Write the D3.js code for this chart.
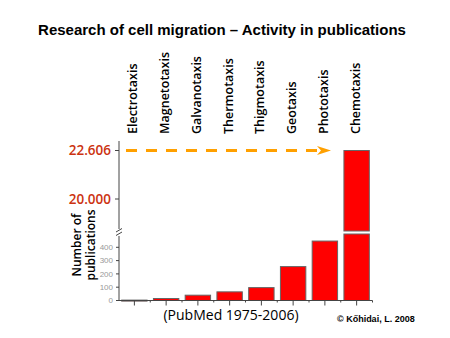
<!DOCTYPE html>
<html>
<head>
<meta charset="utf-8">
<script src="https://cdn.jsdelivr.net/npm/d3@7/dist/d3.min.js"></script>
<style>
  html, body { margin: 0; padding: 0; background: #fff; }
  svg { display: block; }
</style>
</head>
<body>
<svg id="chart" width="450" height="338"></svg>
<script>
// Publications per cell-migration research topic, PubMed 1975-2006
const categories = ["Electrotaxis", "Magnetotaxis", "Galvanotaxis", "Thermotaxis",
                    "Thigmotaxis", "Geotaxis", "Phototaxis", "Chemotaxis"];
const publications = [3, 15, 40, 65, 97, 255, 447, 22606];
const lowTicks = [0, 100, 200, 300, 400];
const highTicks = [20000, 22606];
const highTickLabels = ["20.000", "22.606"];

const svg = d3.select("#chart");
const humanist = "Open Sans, Noto Sans, sans-serif";

// Category band scale along the bottom axis
const x = d3.scaleBand()
  .domain(categories)
  .range([118.5, 372.5])
  .paddingInner(0.2)
  .paddingOuter(0.1);

// Broken value axis: a low segment (0-500) and a high segment (around 20k)
const yLow = d3.scaleLinear().domain([0, 500]).range([300.5, 234]);
const yHigh = d3.scaleLinear().domain([20000, 22606]).range([199, 150.5]);
const highBottom = 231;   // lower edge of the high segment

const axisColor = "#444";

// Title
svg.append("text")
  .attr("x", 222).attr("y", 35)
  .attr("text-anchor", "middle")
  .attr("font-family", "Liberation Sans, Arial, sans-serif")
  .attr("font-weight", "bold")
  .attr("font-size", 15)
  .attr("fill", "#000")
  .text("Research of cell migration \u2013 Activity in publications");

// Rotated category labels above the plot, reading bottom to top
svg.append("g").selectAll("text")
  .data(categories)
  .join("text")
  .attr("transform", d => `translate(${x(d) + x.bandwidth() / 2 + 3},134) rotate(-90)`)
  .attr("text-anchor", "start")
  .attr("font-family", humanist)
  .attr("font-weight", 600)
  .attr("font-size", 12.5)
  .attr("fill", "#000")
  .text(d => d);

// Bars
const bars = svg.append("g");
categories.forEach((c, i) => {
  const v = publications[i];
  const lowTop = yLow(Math.min(v, 500));
  bars.append("rect")
    .attr("x", x(c))
    .attr("y", lowTop)
    .attr("width", x.bandwidth())
    .attr("height", Math.max(1, yLow(0) - lowTop))
    .attr("fill", "#ff0000")
    .attr("stroke", "#666")
    .attr("stroke-width", 1);
  if (v > 500) {
    const top = yHigh(v);
    bars.append("rect")
      .attr("x", x(c))
      .attr("y", top)
      .attr("width", x.bandwidth())
      .attr("height", highBottom - top)
      .attr("fill", "#ff0000")
      .attr("stroke", "#666")
      .attr("stroke-width", 1);
  }
});

// Vertical axis line with break
const axX = 119;
svg.append("line").attr("x1", axX).attr("x2", axX).attr("y1", 141).attr("y2", 229)
  .attr("stroke", axisColor).attr("stroke-width", 1);
svg.append("line").attr("x1", axX).attr("x2", axX).attr("y1", 236).attr("y2", yLow(0))
  .attr("stroke", axisColor).attr("stroke-width", 1);
[0, 3.5].forEach(o => {
  svg.append("line")
    .attr("x1", axX - 3).attr("y1", 232 + o)
    .attr("x2", axX + 3).attr("y2", 228.5 + o)
    .attr("stroke", axisColor).attr("stroke-width", 1);
});

// Low segment ticks and labels
const low = svg.append("g");
lowTicks.forEach(t => {
  low.append("line")
    .attr("x1", axX - 3).attr("x2", axX).attr("y1", yLow(t)).attr("y2", yLow(t))
    .attr("stroke", axisColor);
  low.append("text")
    .attr("x", axX - 6).attr("y", yLow(t)).attr("dy", "0.35em")
    .attr("text-anchor", "end")
    .attr("font-family", "Liberation Sans, Arial, sans-serif")
    .attr("font-size", 8)
    .attr("fill", "#999")
    .text(t);
});

// High segment ticks and labels
const high = svg.append("g");
highTicks.forEach((t, i) => {
  high.append("line")
    .attr("x1", axX - 4).attr("x2", axX).attr("y1", yHigh(t)).attr("y2", yHigh(t))
    .attr("stroke", axisColor);
  high.append("text")
    .attr("x", 111).attr("y", yHigh(t)).attr("dy", "0.36em")
    .attr("text-anchor", "end")
    .attr("font-family", humanist)
    .attr("font-weight", 600)
    .attr("font-size", 13.5)
    .attr("fill", "#cc3311")
    .text(highTickLabels[i]);
});

// Bottom axis with centre and boundary ticks
const base = yLow(0);
svg.append("line").attr("x1", axX).attr("x2", 372.5).attr("y1", base).attr("y2", base)
  .attr("stroke", axisColor).attr("stroke-width", 1);
const gap = (x.step() - x.bandwidth()) / 2;
categories.forEach(c => {
  const cx = x(c) + x.bandwidth() / 2;
  svg.append("line").attr("x1", cx).attr("x2", cx).attr("y1", base).attr("y2", base + 5)
    .attr("stroke", axisColor);
  const bx = x(c) + x.bandwidth() + gap;
  svg.append("line").attr("x1", bx).attr("x2", bx).attr("y1", base).attr("y2", base + 2)
    .attr("stroke", axisColor);
});

// Y axis title
const yTitle = svg.append("text")
  .attr("transform", "translate(0,245) rotate(-90)")
  .attr("text-anchor", "middle")
  .attr("font-family", humanist)
  .attr("font-weight", 600)
  .attr("font-size", 12)
  .attr("fill", "#000");
yTitle.append("tspan").attr("x", 0).attr("y", 81).text("Number of");
yTitle.append("tspan").attr("x", 0).attr("y", 95).text("publications");

// Dashed orange arrow pointing at the tallest bar
const arrowY = yHigh(22606);
svg.append("line")
  .attr("x1", 126).attr("x2", 318).attr("y1", arrowY).attr("y2", arrowY)
  .attr("stroke", "#ffa000").attr("stroke-width", 3)
  .attr("stroke-dasharray", "11,9");
svg.append("path")
  .attr("d", `M317,${arrowY - 4.5} L331,${arrowY} L317,${arrowY + 4.5} L321,${arrowY} Z`)
  .attr("fill", "#ffa000");

// Source note and credit
svg.append("text")
  .attr("x", 231).attr("y", 320)
  .attr("text-anchor", "middle")
  .attr("font-family", humanist)
  .attr("font-size", 14)
  .attr("fill", "#000")
  .text("(PubMed 1975-2006)");
svg.append("text")
  .attr("x", 337).attr("y", 322)
  .attr("font-family", "Liberation Sans, Arial, sans-serif")
  .attr("font-weight", "bold")
  .attr("font-size", 9)
  .attr("fill", "#000")
  .text("\u00a9 K\u0151hidai, L. 2008");
</script>
</body>
</html>
